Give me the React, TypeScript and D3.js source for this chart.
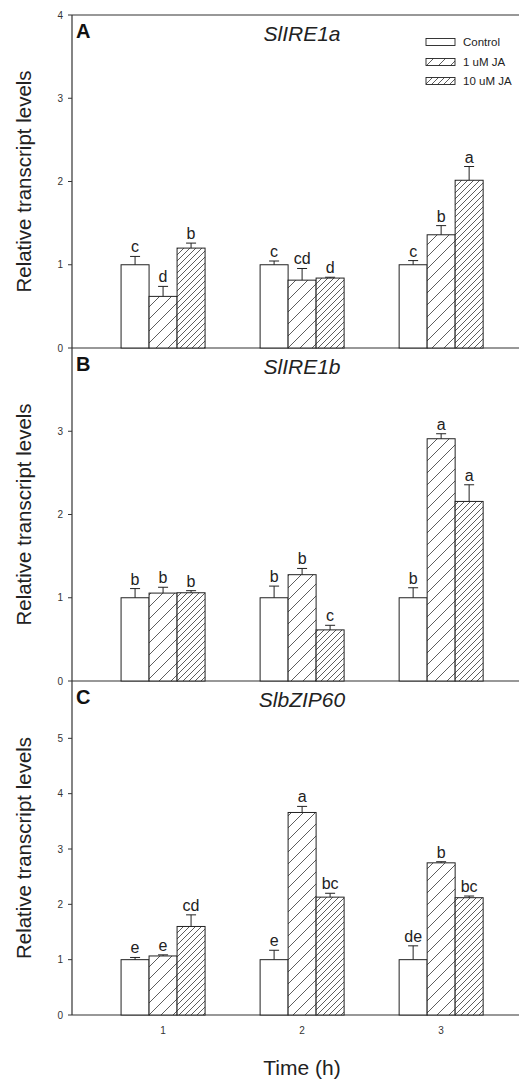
import React from "react";
import * as d3 from "d3";

// ---- data ----
const times = [1, 2, 3];
const seriesNames = ["Control", "1 uM JA", "10 uM JA"];

const ire1aMeans = [
  [1.0, 1.0, 1.0],
  [0.62, 0.815, 1.36],
  [1.2, 0.84, 2.015],
];
const ire1aErrors = [
  [0.1, 0.045, 0.05],
  [0.12, 0.14, 0.11],
  [0.06, 0.01, 0.165],
];
const ire1aLetters = [
  ["c", "c", "c"],
  ["d", "cd", "b"],
  ["b", "d", "a"],
];

const ire1bMeans = [
  [1.0, 1.0, 1.0],
  [1.056, 1.277, 2.91],
  [1.06, 0.614, 2.157],
];
const ire1bErrors = [
  [0.11, 0.14, 0.12],
  [0.07, 0.075, 0.06],
  [0.025, 0.055, 0.2],
];
const ire1bLetters = [
  ["b", "b", "b"],
  ["b", "b", "a"],
  ["b", "c", "a"],
];

const bzipMeans = [
  [1.0, 1.0, 1.0],
  [1.067, 3.66, 2.75],
  [1.6, 2.13, 2.12],
];
const bzipErrors = [
  [0.04, 0.17, 0.25],
  [0.02, 0.11, 0.02],
  [0.21, 0.07, 0.03],
];
const bzipLetters = [
  ["e", "e", "de"],
  ["e", "a", "b"],
  ["cd", "bc", "bc"],
];

const panelLetters = ["A", "B", "C"];
const panelTitles = ["SlIRE1a", "SlIRE1b", "SlbZIP60"];
const ticksA = [0, 1, 2, 3, 4];
const ticksB = [0, 1, 2, 3];
const ticksC = [0, 1, 2, 3, 4, 5];
const xTickLabels = ["1", "2", "3"];

// ---- layout ----
const W = 526;
const H = 1082;
const axisX = 72;
const axisRight = 519;
const FONT = "'Liberation Sans', Arial, Helvetica, sans-serif";
const fills = ["#ffffff", "url(#hatchSparse)", "url(#hatchDense)"];

const x = d3.scaleLinear().domain([0.345, 3.56]).range([axisX, axisRight]);
const inner = d3.scaleBand<string>().domain(seriesNames).range([-42, 42]).padding(0);

const panels = [
  { top: 15, bottom: 348, max: 4, rangeTop: 15, ticks: ticksA, means: ire1aMeans, errors: ire1aErrors, letters: ire1aLetters },
  { top: 348, bottom: 681, max: 4, rangeTop: 348, ticks: ticksB, means: ire1bMeans, errors: ire1bErrors, letters: ire1bLetters },
  { top: 681, bottom: 1015, max: 6, rangeTop: 683, ticks: ticksC, means: bzipMeans, errors: bzipErrors, letters: bzipLetters },
];

function Panel({ p, idx }: { p: any; idx: number }) {
  const y = d3.scaleLinear().domain([0, p.max]).range([p.bottom, p.rangeTop]);
  const bw = inner.bandwidth();
  return (
    <g>
      {/* y axis */}
      <line x1={axisX} x2={axisX} y1={p.top} y2={p.bottom} stroke="#333" strokeWidth={1.2} />
      {/* x axis */}
      <line x1={axisX} x2={axisRight} y1={p.bottom} y2={p.bottom} stroke="#333" strokeWidth={1.2} />
      {p.ticks.map((t: number) => (
        <g key={t}>
          <line x1={axisX - 4} x2={axisX} y1={y(t)} y2={y(t)} stroke="#333" strokeWidth={1} />
          <text x={axisX - 9} y={y(t)} dy="0.35em" textAnchor="end" fontSize={10} fill="#333" fontFamily={FONT}>
            {t}
          </text>
        </g>
      ))}
      {/* bars */}
      {seriesNames.map((s, si) =>
        times.map((t, ti) => {
          const v = p.means[si][ti];
          const e = p.errors[si][ti];
          const x0 = x(t) + (inner(s) as number);
          const cx = x0 + bw / 2;
          return (
            <g key={s + t}>
              <rect x={x0} y={y(v)} width={bw} height={y(0) - y(v)} fill={fills[si]} stroke="#222" strokeWidth={1} />
              <line x1={cx} x2={cx} y1={y(v)} y2={y(v + e)} stroke="#222" strokeWidth={1} />
              <line x1={cx - 5} x2={cx + 5} y1={y(v + e)} y2={y(v + e)} stroke="#222" strokeWidth={1} />
              <text x={cx} y={y(v + e) - 4} textAnchor="middle" fontSize={16} fill="#222" fontFamily={FONT}>
                {p.letters[si][ti]}
              </text>
            </g>
          );
        })
      )}
      {/* panel letter & title */}
      <text x={76} y={p.top + 23} fontSize={20} fontWeight="bold" fill="#111" fontFamily={FONT}>
        {panelLetters[idx]}
      </text>
      <text x={302} y={p.top + 26} textAnchor="middle" fontSize={21} fontStyle="italic" fill="#222" fontFamily={FONT}>
        {panelTitles[idx]}
      </text>
      {/* y label */}
      <text
        transform={`translate(31,${(p.top + p.bottom) / 2}) rotate(-90)`}
        textAnchor="middle"
        fontSize={20.5}
        fill="#222"
        fontFamily={FONT}
      >
        Relative transcript levels
      </text>
    </g>
  );
}

export default function App() {
  const legendY = [42, 62, 81];
  const lastPanel = panels[2];
  return (
    <svg width={W} height={H} style={{ position: "absolute", left: 0, top: 0, background: "#fff" }}>
      <defs>
        <pattern id="hatchSparse" patternUnits="userSpaceOnUse" width={12} height={12}>
          <rect width={12} height={12} fill="#fff" />
          <line x1={0} y1={12} x2={12} y2={0} stroke="#333" strokeWidth={0.8} />
          <line x1={-1} y1={1} x2={1} y2={-1} stroke="#333" strokeWidth={0.8} />
          <line x1={11} y1={13} x2={13} y2={11} stroke="#333" strokeWidth={0.8} />
        </pattern>
        <pattern id="hatchDense" patternUnits="userSpaceOnUse" width={6} height={6}>
          <rect width={6} height={6} fill="#fff" />
          <line x1={0} y1={6} x2={6} y2={0} stroke="#333" strokeWidth={0.8} />
          <line x1={-1} y1={1} x2={1} y2={-1} stroke="#333" strokeWidth={0.8} />
          <line x1={5} y1={7} x2={7} y2={5} stroke="#333" strokeWidth={0.8} />
        </pattern>
      </defs>
      <rect width={W} height={H} fill="#fff" />
      {/* top frame line */}
      <line x1={axisX} x2={axisRight} y1={15} y2={15} stroke="#333" strokeWidth={1.2} />
      {panels.map((p, i) => (
        <Panel key={i} p={p} idx={i} />
      ))}
      {/* legend */}
      {seriesNames.map((s, i) => (
        <g key={s}>
          <rect x={426} y={legendY[i] - 3.5} width={29} height={7} fill={fills[i]} stroke="#222" strokeWidth={0.9} />
          <text x={463} y={legendY[i]} dy="0.35em" fontSize={11.5} fill="#222" fontFamily={FONT}>
            {s}
          </text>
        </g>
      ))}
      {/* x tick labels */}
      {times.map((t, i) => (
        <text key={t} x={x(t)} y={lastPanel.bottom + 19} textAnchor="middle" fontSize={10} fill="#333" fontFamily={FONT}>
          {xTickLabels[i]}
        </text>
      ))}
      <text x={302} y={1075} textAnchor="middle" fontSize={21} fill="#222" fontFamily={FONT}>
        Time (h)
      </text>
    </svg>
  );
}
